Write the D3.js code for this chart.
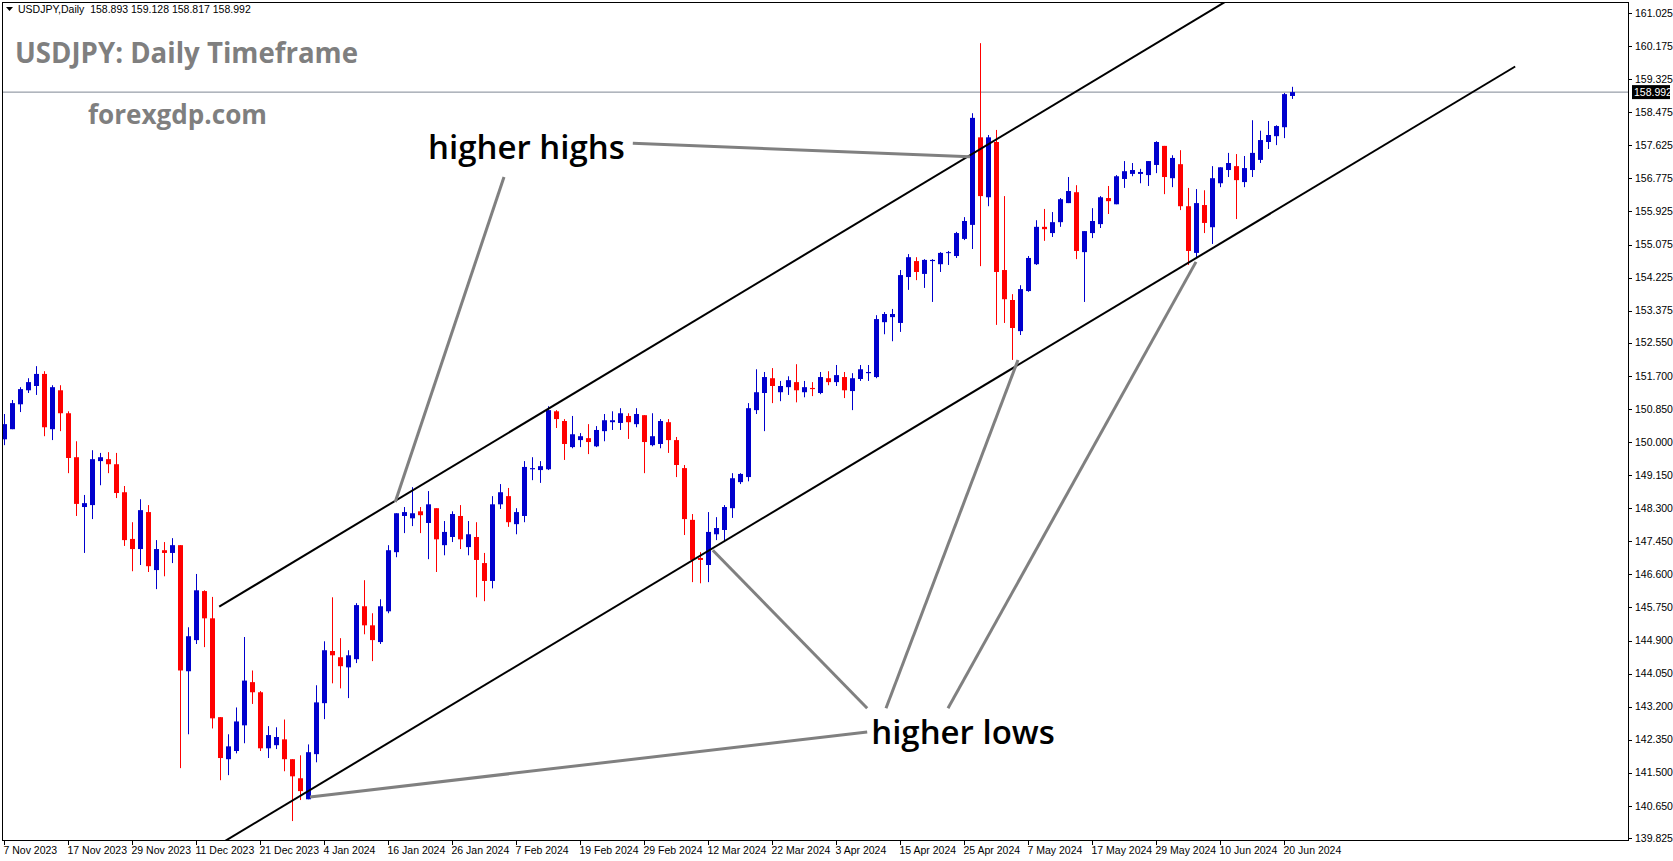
<!DOCTYPE html>
<html><head><meta charset="utf-8">
<script src="https://cdn.jsdelivr.net/npm/d3@7"></script>
<style>body{margin:0;background:#fff}svg{display:block}</style>
</head><body><svg id="c" width="1673" height="861"></svg>
<script>
const opens=[150.07,150.33,150.97,151.33,151.44,151.75,150.33,151.33,150.74,149.61,148.33,148.38,149.51,149.56,149.43,148.71,147.51,147.25,148.20,146.71,147.22,147.15,147.35,144.11,144.91,146.17,145.47,142.93,141.85,142.06,142.72,143.83,143.57,142.13,142.21,142.36,141.85,141.36,140.82,141.98,143.29,144.63,144.47,144.21,144.42,145.78,145.29,144.86,145.65,147.17,148.10,148.04,148.22,147.92,148.30,147.35,147.56,148.10,147.30,147.56,146.89,146.43,148.40,148.61,147.89,148.10,149.30,149.28,149.30,150.79,150.54,149.87,150.05,150.10,149.89,150.28,150.51,150.49,150.67,150.46,150.69,149.92,149.95,150.51,150.05,149.33,148.00,147.02,146.84,147.63,147.74,148.30,148.97,149.10,150.82,151.26,151.64,151.28,151.41,151.54,151.28,151.39,151.26,151.64,151.54,151.67,151.31,151.62,151.77,151.67,153.08,153.21,153.06,154.24,154.65,154.32,154.65,154.57,154.86,154.78,155.22,155.58,157.83,156.29,157.71,154.42,153.65,152.85,153.88,154.57,155.53,155.37,155.65,156.14,156.42,154.88,155.37,155.60,156.27,156.11,156.76,156.89,156.89,156.86,157.12,157.61,156.78,157.14,156.06,154.86,156.09,155.52,156.65,156.99,157.09,156.68,156.99,157.25,157.71,157.86,158.09,158.893];
const highs=[150.72,151.08,151.41,151.64,151.95,151.82,151.46,151.46,150.79,150.02,148.64,149.79,149.72,149.74,149.72,148.87,147.94,148.53,148.38,147.48,147.43,147.53,147.35,145.24,146.61,146.19,146.02,142.93,142.49,143.18,144.99,144.13,143.60,142.70,142.67,142.87,141.85,141.95,142.23,143.75,144.88,146.01,144.96,144.65,145.86,146.45,145.60,145.96,147.35,148.17,148.33,148.84,148.33,148.74,148.30,147.97,148.22,148.38,147.97,147.94,147.15,148.61,148.92,148.82,148.30,149.51,149.61,149.51,150.92,150.82,150.59,150.67,150.23,150.46,150.41,150.72,150.79,150.87,150.74,150.87,150.69,150.74,150.59,150.59,150.13,149.41,148.15,147.17,148.20,148.07,148.38,149.20,149.20,151.00,151.87,151.80,151.90,151.57,151.69,152.00,151.57,151.54,151.80,151.82,151.98,151.80,151.77,151.98,151.98,153.26,153.34,153.42,154.42,154.83,154.75,154.70,154.70,154.88,154.91,155.40,155.78,158.45,160.25,157.89,158.02,156.32,153.80,154.03,154.78,155.70,155.99,155.91,156.27,156.81,156.60,155.42,156.01,156.32,156.58,156.86,157.22,157.17,157.02,157.22,157.73,157.61,157.37,157.50,156.53,156.50,156.47,157.09,157.06,157.43,157.40,157.35,158.27,158.00,158.25,158.14,158.97,159.128];
const lows=[149.92,150.33,150.77,151.26,151.21,150.15,150.05,150.28,149.20,148.10,147.15,148.02,148.89,149.20,148.56,147.33,146.68,146.84,146.66,146.22,146.55,146.89,141.62,142.49,144.81,144.73,142.64,141.31,141.44,142.00,142.26,143.27,142.06,141.88,142.11,141.54,140.26,140.80,140.82,141.77,142.88,143.80,143.67,143.42,144.32,145.06,144.37,144.81,145.60,147.04,147.66,147.84,147.66,146.99,146.66,147.09,147.43,147.25,147.09,146.01,145.91,146.24,148.28,147.82,147.63,147.94,149.02,148.95,149.28,150.36,149.54,149.84,149.87,149.69,149.87,150.02,150.31,150.31,150.08,150.38,149.20,149.89,149.84,149.72,149.10,147.61,146.40,146.37,146.40,147.48,147.43,148.05,148.92,148.99,150.72,150.28,151.00,151.05,151.21,151.02,151.15,151.18,151.23,151.46,151.44,151.13,150.82,151.57,151.57,151.64,152.77,152.59,152.83,153.91,154.16,153.96,153.60,154.37,154.55,154.73,155.19,154.96,154.52,156.06,153.01,153.06,152.11,152.75,153.86,154.55,155.17,155.27,155.53,156.14,154.70,153.60,155.24,155.50,155.86,156.11,156.53,156.83,156.65,156.58,156.91,156.37,156.55,155.96,154.55,154.75,155.37,155.09,156.55,156.81,155.73,156.55,156.81,157.17,157.53,157.63,157.81,158.817];
const closes=[150.46,151.00,151.36,151.54,151.75,150.38,151.41,150.74,149.59,148.41,148.43,149.56,149.61,149.43,148.69,147.48,147.25,148.25,146.81,147.25,147.15,147.35,144.13,145.01,146.19,145.47,142.90,141.88,142.18,142.82,143.87,143.57,142.13,142.47,142.42,141.85,141.41,141.03,142.03,143.31,144.65,144.52,144.24,144.52,145.81,145.29,144.91,145.78,147.22,148.17,148.20,148.17,148.12,148.40,147.50,147.69,148.15,147.50,147.63,146.97,146.43,148.40,148.71,147.94,148.20,149.36,149.33,149.38,150.82,150.59,149.95,150.20,150.15,150.00,150.31,150.56,150.56,150.74,150.51,150.72,150.00,150.15,150.54,150.05,149.41,148.02,146.97,146.97,147.69,147.79,148.33,149.07,149.18,150.87,151.28,151.67,151.44,151.44,151.59,151.33,151.41,151.36,151.67,151.54,151.72,151.33,151.64,151.87,151.80,153.16,153.29,153.29,154.29,154.75,154.37,154.68,154.68,154.86,154.88,155.37,155.68,158.33,156.32,157.83,154.37,153.67,152.93,153.93,154.73,155.53,155.47,155.65,156.24,156.45,154.91,155.42,155.68,156.29,156.19,156.83,156.96,156.99,156.94,157.22,157.71,156.81,157.30,156.06,154.91,156.14,155.63,156.78,157.06,157.17,156.73,157.04,157.43,157.76,157.89,158.12,158.94,158.992];
const priceTicks=[161.025,160.175,159.325,158.475,157.625,156.775,155.925,155.075,154.225,153.375,152.550,151.700,150.850,150.000,149.150,148.300,147.450,146.600,145.750,144.900,144.050,143.200,142.350,141.500,140.650,139.825];
const dateLabels=["7 Nov 2023","17 Nov 2023","29 Nov 2023","11 Dec 2023","21 Dec 2023","4 Jan 2024","16 Jan 2024","26 Jan 2024","7 Feb 2024","19 Feb 2024","29 Feb 2024","12 Mar 2024","22 Mar 2024","3 Apr 2024","15 Apr 2024","25 Apr 2024","7 May 2024","17 May 2024","29 May 2024","10 Jun 2024","20 Jun 2024"];
const dateLabelBars=[0,8,16,24,32,40,48,56,64,72,80,88,96,104,112,120,128,136,144,152,160];
const lastPrice=158.992;
// annotation anchors: [bar, price]
const upperChannel=[[26.9,145.77],[160,162.22]];
const lowerChannel=[[24,139.30],[188.9,159.65]];
const hhLines=[[[78.6,157.68],[120.75,157.33]],[[62.5,156.81],[48.9,148.46]]];
const hlLines=[[[107.9,143.16],[88.6,147.22]],[[110.25,143.16],[126.75,152.11]],[[118,143.16],[149,154.63]],[[107.9,142.55],[38.25,140.88]]];
const hhLabel={text:"higher highs",bar:53,price:157.27};
const hlLabel={text:"higher lows",bar:108.4,price:142.24};

const svg=d3.select("#c");
const L=2,T=2,R=1628,B=840;
const x=d3.scaleLinear().domain([0,161]).range([4,1292]);
const y=d3.scaleLinear().domain([139.825,161.025]).range([838,13]);
svg.append("defs").append("clipPath").attr("id","pc").append("rect").attr("x",L).attr("y",T).attr("width",R-L).attr("height",B-T);
const g=svg.append("g").attr("clip-path","url(#pc)");
g.append("line").attr("x1",L).attr("x2",R).attr("y1",y(lastPrice)).attr("y2",y(lastPrice)).attr("stroke","#7f8794").attr("stroke-width",1);
const idx=d3.range(opens.length);
const col=i=>closes[i]>=opens[i]?"#0000cd":"#ff0000";
g.selectAll(".w").data(idx).join("line").attr("x1",i=>Math.round(x(i))+0.5).attr("x2",i=>Math.round(x(i))+0.5)
 .attr("y1",i=>y(highs[i])).attr("y2",i=>y(lows[i])).attr("stroke",col).attr("stroke-width",1);
g.selectAll(".b").data(idx).join("rect").attr("x",i=>Math.round(x(i))-2).attr("width",5)
 .attr("y",i=>y(Math.max(opens[i],closes[i]))).attr("height",i=>Math.max(1,Math.abs(y(opens[i])-y(closes[i])))).attr("fill",col);
const ln=d3.line().x(d=>x(d[0])).y(d=>y(d[1]));
[upperChannel,lowerChannel].forEach(c=>g.append("path").attr("d",ln(c)).attr("stroke","#000").attr("stroke-width",2).attr("fill","none"));
[...hhLines,...hlLines].forEach(c=>g.append("path").attr("d",ln(c)).attr("stroke","#808080").attr("stroke-width",3).attr("fill","none"));
[hhLabel,hlLabel].forEach(l=>g.append("text").attr("x",x(l.bar)).attr("y",y(l.price)).text(l.text)
 .attr("font-family","Open Sans").attr("font-weight",600).attr("font-size",33).attr("fill","#000"));
svg.append("rect").attr("x",L+0.5).attr("y",T+0.5).attr("width",R-L).attr("height",B-T).attr("fill","none").attr("stroke","#000");
const F="Liberation Sans";
const ya=svg.append("g");
priceTicks.forEach(p=>{ya.append("line").attr("x1",R).attr("x2",R+4).attr("y1",Math.round(y(p))+0.5).attr("y2",Math.round(y(p))+0.5).attr("stroke","#000");
 ya.append("text").attr("x",R+7).attr("y",y(p)).attr("dy","0.35em").text(d3.format(".3f")(p)).attr("font-family",F).attr("font-size",10.5).attr("fill","#000");});
ya.append("rect").attr("x",R+4).attr("y",y(lastPrice)-7).attr("width",38).attr("height",14).attr("fill","#000");
ya.append("text").attr("x",R+6).attr("y",y(lastPrice)).attr("dy","0.35em").text(lastPrice.toFixed(3)).attr("font-family",F).attr("font-size",10.5).attr("fill","#fff");
const xa=svg.append("g");
dateLabels.forEach((t,i)=>{const xx=Math.round(x(dateLabelBars[i]))+0.5;
 xa.append("line").attr("x1",xx).attr("x2",xx).attr("y1",B).attr("y2",B+5).attr("stroke","#000");
 xa.append("text").attr("x",xx-1).attr("y",B+14).text(t).attr("font-family",F).attr("font-size",10.5).attr("fill","#000");});
svg.append("path").attr("d","M6,7 L13,7 L9.5,11 Z").attr("fill","#000");
svg.append("text").attr("x",18).attr("y",13).text("USDJPY,Daily  158.893 159.128 158.817 158.992").attr("font-family",F).attr("font-size",10.5).attr("fill","#000").attr("xml:space","preserve");
svg.append("text").attr("x",15).attr("y",63).text("USDJPY: Daily Timeframe").attr("font-family","Open Sans").attr("font-weight",700).attr("font-size",28).attr("fill","#7f7f7f").attr("textLength",343).attr("lengthAdjust","spacingAndGlyphs");
svg.append("text").attr("x",88).attr("y",124).text("forexgdp.com").attr("font-family","Open Sans").attr("font-weight",700).attr("font-size",26).attr("fill","#7f7f7f").attr("textLength",179).attr("lengthAdjust","spacingAndGlyphs");
</script></body></html>
